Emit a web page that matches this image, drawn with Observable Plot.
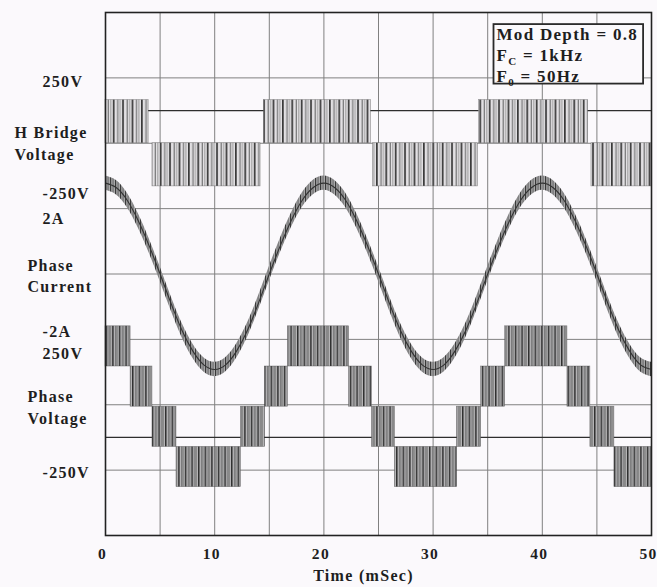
<!DOCTYPE html>
<html>
<head>
<meta charset="utf-8">
<script src="https://cdn.jsdelivr.net/npm/d3@7"></script>
<script src="https://cdn.jsdelivr.net/npm/@observablehq/plot@0.6"></script>
<style>
  html, body { margin: 0; padding: 0; background: #fbf9fc; }
  #chart { width: 657px; height: 587px; }
</style>
</head>
<body>
<div id="chart"></div>
<script>
// ---------- axis / grid values ----------
const timeTicks = [0, 10, 20, 30, 40, 50];
const timeGrid = [0, 5, 10, 15, 20, 25, 30, 35, 40, 45, 50];
const divGrid = [0, 1, 2, 3, 4, 5, 6, 7, 8];          // screen divisions (bottom = 0)
const refLines = [1.5, 6.5];                           // darker reference traces

// ---------- left labels ----------
const valueLabels = ["250V", "-250V", "2A", "-2A", "250V", "-250V"];
const valueLabelDiv = [6.94, 5.23, 4.84, 3.12, 2.78, 0.96];
const hbName = ["H Bridge\nVoltage"];
const hbNameDiv = [6.02];
const phaseNames = ["Phase\nCurrent", "Phase\nVoltage"];
const phaseNameDiv = [3.99, 1.98];

// ---------- legend ----------
const legendLines = ["Mod Depth = 0.8", "F_C = 1kHz", "F_0 = 50Hz"];

// ---------- H-bridge voltage (PWM bursts) ----------
const hbStart = [0, 4.3, 14.5, 24.5, 34.2, 44.5];
const hbEnd   = [3.95, 14.2, 24.3, 34.1, 44.2, 50];
const hbVolts = [250, -250, 250, -250, 250, -250];

// ---------- phase voltage (5-level staircase of PWM bursts) ----------
const pvStart = [0, 2.3, 4.3, 6.5, 12.4, 14.6, 16.7, 22.3, 24.4, 26.5, 32.2, 34.4, 36.6, 42.3, 44.4, 46.6];
const pvEnd   = [2.3, 4.3, 6.5, 12.4, 14.6, 16.7, 22.3, 24.4, 26.5, 32.2, 34.4, 36.6, 42.3, 44.4, 46.6, 50];
const pvLowLevel  = [1, 0, -1, -2, -1, 0, 1, 0, -1, -2, -1, 0, 1, 0, -1, -2];   // in cell steps
const pvHighLevel = [2, 1, 0, -1, 0, 1, 2, 1, 0, -1, 0, 1, 2, 1, 0, -1];

// ---------- phase current (read every 1 ms) ----------
const curTime = [0,1,2,3,4,5,6,7,8,9,10,11,12,13,14,15,16,17,18,19,20,21,22,23,24,25,26,27,28,29,30,31,32,33,34,35,36,37,38,39,40,41,42,43,44,45,46,47,48,49,50];
const curAmps = [2.78,2.64,2.25,1.63,0.86,0,-0.9,-1.72,-2.36,-2.78,-2.92,-2.78,-2.36,-1.72,-0.9,0,0.86,1.63,2.25,2.64,2.78,2.64,2.25,1.63,0.86,0,-0.9,-1.72,-2.36,-2.78,-2.92,-2.78,-2.36,-1.72,-0.9,0,0.86,1.63,2.25,2.64,2.78,2.64,2.25,1.63,0.86,0,-0.9,-1.72,-2.36,-2.78,-2.92];
const curRipple = 0.22;  // amps, half-width of the switching ripple band

// ---------- trace placement on the screen (divisions) ----------
const hbZero = 6, hbDivPerVolt = 0.66 / 250;
const pvZero = 1.97, pvDivPerStep = 0.615;
const curZero = 4, curDivPerAmp = 0.5;

const hbData = hbStart.map((s, i) => ({x1: s, x2: hbEnd[i], y1: hbZero, y2: hbZero + hbVolts[i] * hbDivPerVolt}));
const pvData = pvStart.map((s, i) => ({x1: s, x2: pvEnd[i], y1: pvZero + pvLowLevel[i] * pvDivPerStep, y2: pvZero + pvHighLevel[i] * pvDivPerStep}));
const curData = curTime.map((t, i) => ({
  t,
  y: curZero + curAmps[i] * curDivPerAmp,
  lo: curZero + (curAmps[i] - curRipple) * curDivPerAmp,
  hi: curZero + (curAmps[i] + curRipple) * curDivPerAmp
}));

const BG = "#fbf9fc";
const FONT = "'Liberation Serif', 'DejaVu Serif', 'Times New Roman', serif";

const svg = Plot.plot({
  width: 657,
  height: 587,
  marginLeft: 105,
  marginRight: 6,
  marginTop: 12,
  marginBottom: 52,
  x: {domain: [0, 50]},
  y: {domain: [0, 8], axis: null},
  style: {background: BG, fontFamily: FONT, fontWeight: "bold", fontSize: "16px", letterSpacing: "1.3px", color: "#1e1e1e"},
  marks: [
    Plot.ruleX(timeGrid, {stroke: "#808080", strokeWidth: 1}),
    Plot.ruleY(divGrid, {stroke: "#808080", strokeWidth: 1}),
    Plot.ruleY(refLines, {stroke: "#2e2e2e", strokeWidth: 1.3}),
    Plot.rect(hbData, {x1: "x1", x2: "x2", y1: "y1", y2: "y2", fill: "url(#hbStripes)", stroke: "#555", strokeWidth: 0.6, strokeOpacity: 0.6}),
    Plot.rect(pvData, {x1: "x1", x2: "x2", y1: "y1", y2: "y2", fill: "url(#pvStripes)", stroke: "#444", strokeWidth: 0.6, strokeOpacity: 0.6}),
    Plot.areaY(curData, {x: "t", y1: "lo", y2: "hi", fill: "url(#curStripes)", curve: "natural"}),
    Plot.line(curData, {x: "t", y: "y", stroke: "#333", strokeWidth: 1.1, curve: "natural"}),
    Plot.frame({stroke: "#222", strokeWidth: 1.6}),
    Plot.axisX(timeTicks, {tickSize: 0, tickPadding: 12, dx: -3, label: null, fontSize: 15.5}),
    Plot.text(["Time (mSec)"], {frameAnchor: "bottom", dy: 45, dx: -15, fontSize: 16}),
    Plot.text(valueLabels, {y: valueLabelDiv, frameAnchor: "left", dx: -63, textAnchor: "start", fontSize: 16}),
    Plot.text(hbName, {y: hbNameDiv, frameAnchor: "left", dx: -91, textAnchor: "start", fontSize: 16, lineHeight: 1.35}),
    Plot.text(phaseNames, {y: phaseNameDiv, frameAnchor: "left", dx: -78, textAnchor: "start", fontSize: 16, lineHeight: 1.35}),
    Plot.text([legendLines.join("\n")], {frameAnchor: "top-right", dx: -155, dy: 12, textAnchor: "start", lineAnchor: "top", fontSize: 17, lineHeight: 1.25})
  ]
});

// stripe patterns imitating the dense, uneven PWM switching
const defs = d3.select(svg).insert("defs", ":first-child");
function stripes(id, w, bg, fg, bars) {
  const p = defs.append("pattern").attr("id", id).attr("patternUnits", "userSpaceOnUse").attr("width", w).attr("height", 10);
  p.append("rect").attr("width", w).attr("height", 10).attr("fill", bg);
  for (const [x, lw, c] of bars) p.append("rect").attr("x", x).attr("width", lw).attr("height", 10).attr("fill", c || fg);
}
stripes("hbStripes", 9.4, "#e2e0e3", "#3a3a3a", [[0, 1.7], [4.4, 1.1, "#6a6a6a"], [7.0, 0.8, "#8a8a8a"]]);
stripes("pvStripes", 6.6, "#b9b8ba", "#2f2f2f", [[0, 1.5], [3.2, 1.0, "#555"], [5.0, 0.7, "#777"]]);
stripes("curStripes", 5.0, "#a9a9aa", "#3a3a3a", [[0, 1.2], [2.6, 0.9, "#5a5a5a"]]);

document.getElementById("chart").appendChild(svg);

// subscripts in the legend
d3.select(svg).selectAll("tspan").each(function () {
  const m = this.textContent.match(/^(\w)_(\w)(.*)$/);
  if (m) {
    const el = d3.select(this);
    el.text(m[1]);
    el.append("tspan").attr("dy", 4).attr("font-size", 11).text(m[2]);
    el.append("tspan").attr("dy", -4).text(m[3]);
  }
});

// legend box around the legend text
const legendText = Array.from(svg.querySelectorAll("text")).find(t => t.textContent.startsWith("Mod Depth"));
if (legendText) {
  const r = legendText.getBoundingClientRect();
  const s = svg.getBoundingClientRect();
  const rect = document.createElementNS("http://www.w3.org/2000/svg", "rect");
  rect.setAttribute("x", r.left - s.left - 3);
  rect.setAttribute("y", r.top - s.top - 0.5);
  rect.setAttribute("width", r.width + 8);
  rect.setAttribute("height", r.height - 4);
  rect.setAttribute("fill", BG);
  rect.setAttribute("stroke", "#2a2a2a");
  rect.setAttribute("stroke-width", 1.8);
  const g = legendText.parentNode;
  g.parentNode.insertBefore(rect, g);
}
</script>
</body>
</html>
